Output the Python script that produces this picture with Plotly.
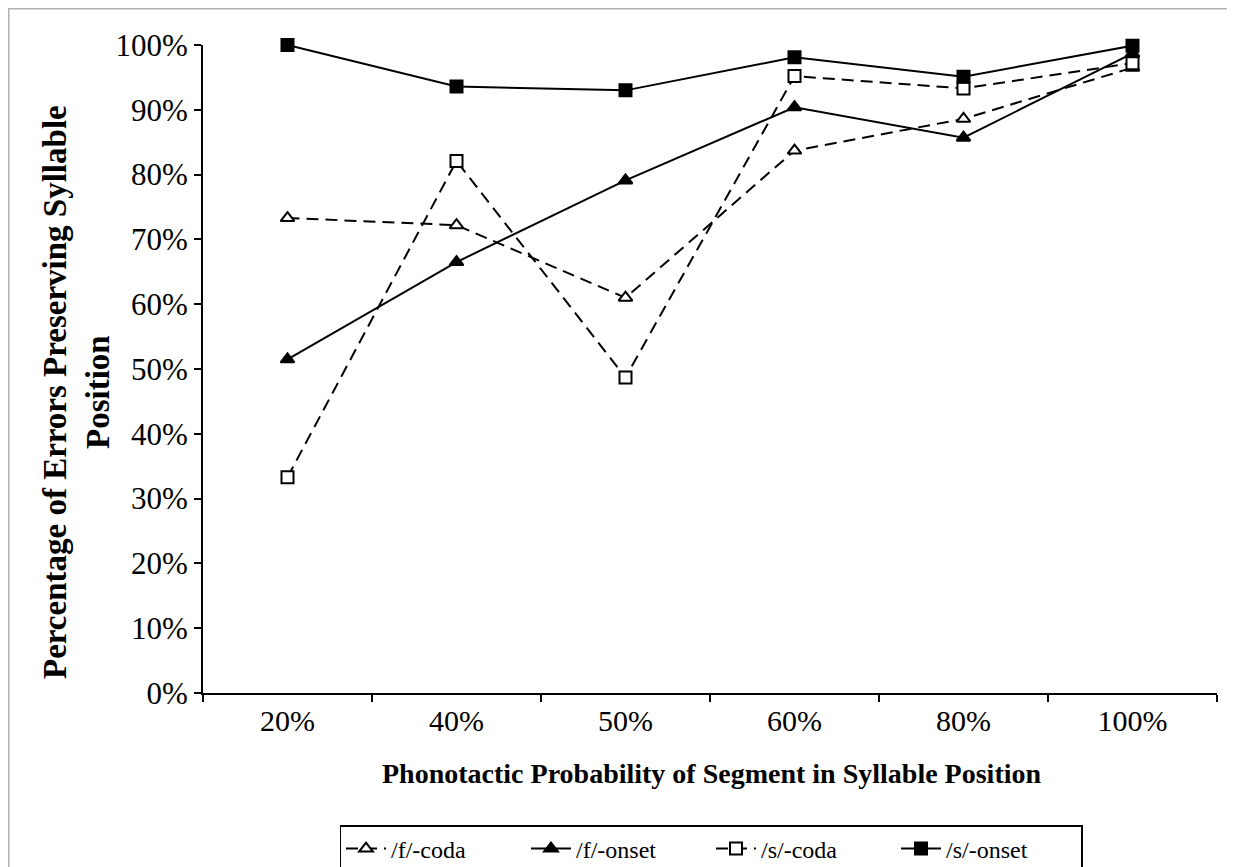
import plotly.graph_objects as go

categories = ["20%", "40%", "50%", "60%", "80%", "100%"]
f_coda = [73.3, 72.2, 61.0, 83.7, 88.6, 96.5]
f_onset = [51.5, 66.5, 79.1, 90.4, 85.7, 98.7]
s_coda = [33.3, 82.1, 48.7, 95.2, 93.3, 97.2]
s_onset = [100.0, 93.6, 93.0, 98.1, 95.1, 99.9]
y_ticks = list(range(0, 101, 10))
y_tick_labels = [f"{v}%" for v in y_ticks]

FONT = "Liberation Serif, Times New Roman, serif"
W, H = 1235, 867
L, R, T, B = 195, 26, 37, 182
PW, PH = W - L - R, H - T - B
PB = H - B  # plot bottom in figure px

fig = go.Figure()

series = [
    ("/f/-coda", f_coda, "12px,7px", "triangle-up", "white"),
    ("/f/-onset", f_onset, "solid", "triangle-up", "black"),
    ("/s/-coda", s_coda, "12px,7px", "square", "white"),
    ("/s/-onset", s_onset, "solid", "square", "black"),
]
for name, vals, dash, sym, fill in series:
    fig.add_trace(go.Scatter(
        x=categories, y=vals, name=name, mode="lines+markers",
        line=dict(color="black", width=2, dash=dash),
        marker=dict(symbol=sym, size=12, color=fill,
                    line=dict(color="black", width=2)),
        cliponaxis=False,
    ))

fig.update_layout(
    width=W, height=H,
    margin=dict(l=L, r=R, t=T, b=B, autoexpand=False),
    paper_bgcolor="white", plot_bgcolor="white",
    font=dict(family=FONT, color="black", size=24),
    showlegend=True,
    legend=dict(
        orientation="h", x=(703 - L) / PW, xanchor="center",
        y=(PB - 817) / PH, yanchor="top",
        bordercolor="black", borderwidth=1.5,
        font=dict(family=FONT, size=24, color="black"),
        itemwidth=40, tracegroupgap=0,
        entrywidth=130, entrywidthmode="pixels",
    ),
    xaxis=dict(
        type="category", range=[-0.5, 5.5], tickson="boundaries",
        showline=True, linecolor="black", linewidth=2,
        ticks="outside", ticklen=7, tickwidth=2, tickcolor="black",
        showgrid=False, zeroline=False,
        tickfont=dict(family=FONT, size=30),
    ),
    yaxis=dict(
        range=[0, 100], tickvals=y_ticks, ticktext=y_tick_labels,
        showline=True, linecolor="black", linewidth=2,
        ticks="outside", ticklen=7, tickwidth=2, tickcolor="black",
        showgrid=False, zeroline=False,
        tickfont=dict(family=FONT, size=31),
    ),
    annotations=[
        dict(text="<b>Phonotactic Probability of Segment in Syllable Position</b>",
             xref="paper", yref="paper", x=(703 - L) / PW, y=(PB - 765) / PH,
             xanchor="center", yanchor="middle", showarrow=False,
             font=dict(family=FONT, size=28)),
        dict(text="<b>Percentage of Errors Preserving Syllable<br>Position</b>",
             xref="paper", yref="paper", x=(68 - L) / PW, y=(PB - 384) / PH,
             xanchor="center", yanchor="middle", showarrow=False, textangle=-90,
             font=dict(family=FONT, size=33)),
    ],
    shapes=[
        dict(type="rect", xref="paper", yref="paper",
             x0=(0.75 - L) / PW, x1=(1223 - L) / PW,
             y0=(PB - 880) / PH, y1=(PB - 0.75) / PH,
             line=dict(color="#b0b0b0", width=1.5), layer="below"),
    ],
)

fig.write_html("out.html")
